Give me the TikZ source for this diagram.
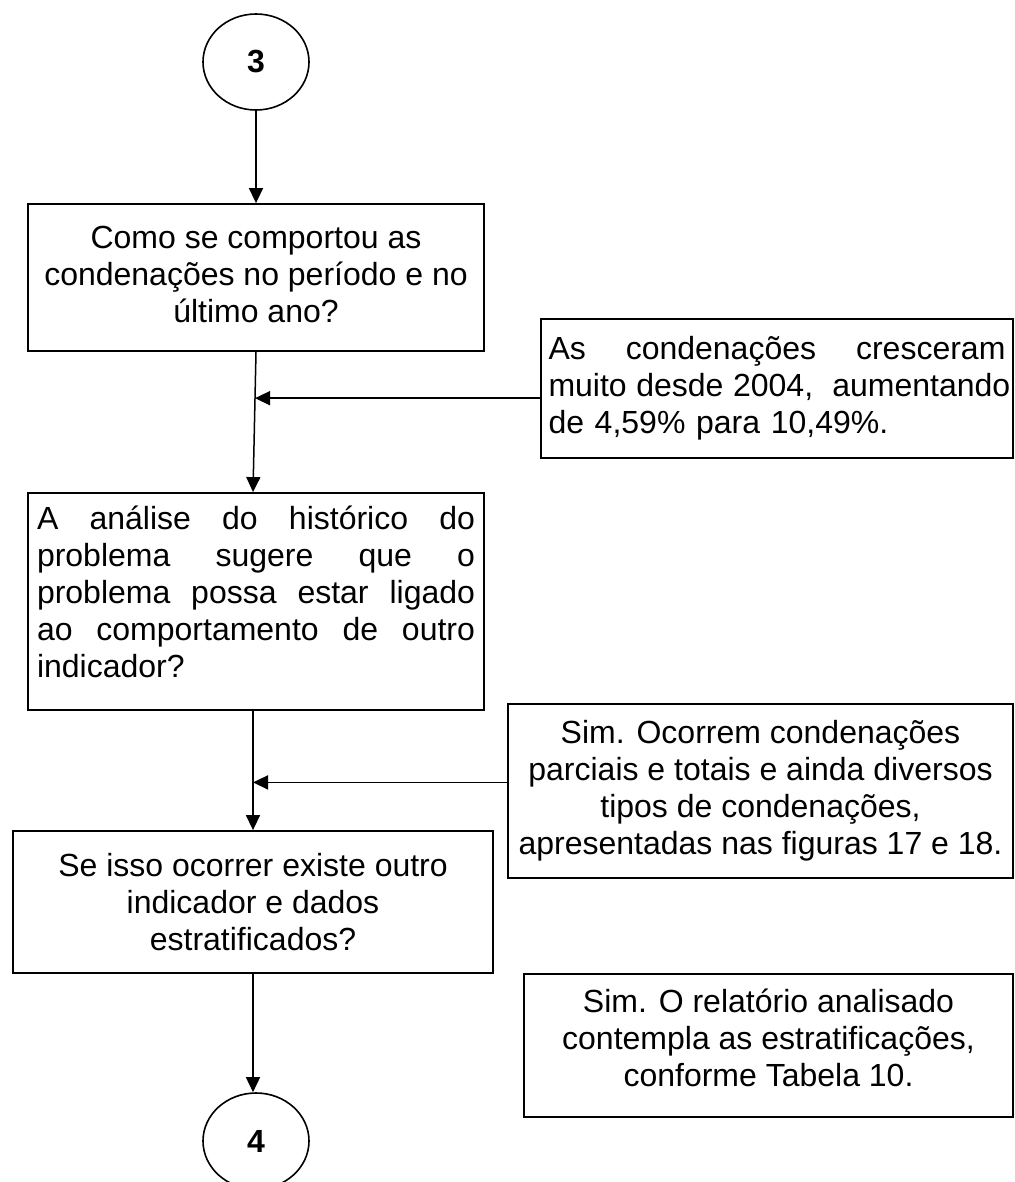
\documentclass[tikz,border=0pt]{standalone}
\usepackage{fontspec}
\setmainfont{Liberation Sans}
\usetikzlibrary{shapes.geometric, arrows.meta, calc}
\tikzstyle{question} = [rectangle, draw=black, line width=0.9pt, text centered,
    align=center, font=\fontsize{16}{18.5}\selectfont]
\tikzstyle{answer} = [question]
\tikzstyle{connect} = [ellipse, draw=black, line width=0.8pt, minimum width=53pt,
    minimum height=48pt, font=\fontsize{16}{18.5}\selectfont\bfseries]
\tikzstyle{arrow} = [line width=0.75pt,->,>={Triangle[length=7.5pt,width=7pt]}]
\newcommand{\jline}[1]{\leavevmode\hbox to \hsize{\spaceskip=0.3em plus 1fil\relax #1}}

\begin{document}
\begin{tikzpicture}[x=0.5pt, y=-0.5pt]
            \useasboundingbox (0,0) rectangle (1015,1182);
            % Connectors and questions
            \node[connect] (c3) at (256,62) {3};
            \node[question, minimum width=228pt, minimum height=73.5pt]
            (q1) at (256,277.5) {Como se comportou as\\condenações no período e no\\último ano?\\[-15.5pt]\mbox{}};
            \node[question, minimum width=228pt, minimum height=108.5pt,
            text width=219pt, align=left] (q2) at (256,601.5)
            {\jline{A análise do histórico do}\\\jline{problema sugere que o}\\
            \jline{problema possa estar ligado}\\\jline{ao comportamento de outro}\\
            indicador?\\[-9pt]\mbox{}};
            \node[question, minimum width=240pt, minimum height=71pt]
            (q3) at (253,902) {Se isso ocorrer existe outro\\indicador e dados\\estratificados?};
            \node[connect] (c4) at (256,1141) {4};
            % Answers
            \node[answer, minimum width=236pt, minimum height=69.5pt,
            text width=228.5pt, align=left] (a1) at (777,388.5)
            {\jline{As condenações cresceram}\\\jline{muito desde 2004,\hskip0.6em aumentando}\\
            de 4,59\% para 10,49\%.};
            \node[answer, minimum width=252.5pt, minimum height=87pt]
            (a2) at (760.5,791) {Sim. Ocorrem condenações\\parciais e totais e ainda diversos\\
            tipos de condenações,\\apresentadas nas figuras 17 e 18.};
            \node[answer, minimum width=244.5pt, minimum height=71.5pt]
            (a3) at (768.5,1045.5) {Sim. O relatório analisado\\contempla as estratificações,\\
            conforme Tabela 10.\\[-10.5pt]\mbox{}};
            % Junctions
            \coordinate (t2) at ([xshift=-1.5pt]q2.north);
            \coordinate (m1) at ($(q1.south)!0.33!(t2)$);
            \coordinate (s2) at (q3.north |- q2.south);
            \coordinate (m2) at ($(s2)!0.6!(q3.north)$);
            % Arrows
            \draw[arrow] (c3.south) -- (c3.south |- q1.north);
            \draw[arrow] (q1.south) -- (t2);
            \draw[arrow] (a1.west |- m1) -- (m1);
            \draw[arrow] (s2) -- (q3.north);
            \draw[arrow] (a2.west |- m2) -- (m2);
            \draw[arrow] (q3.south) -- (q3.south |- c4.north);

        \end{tikzpicture}
\end{document}
